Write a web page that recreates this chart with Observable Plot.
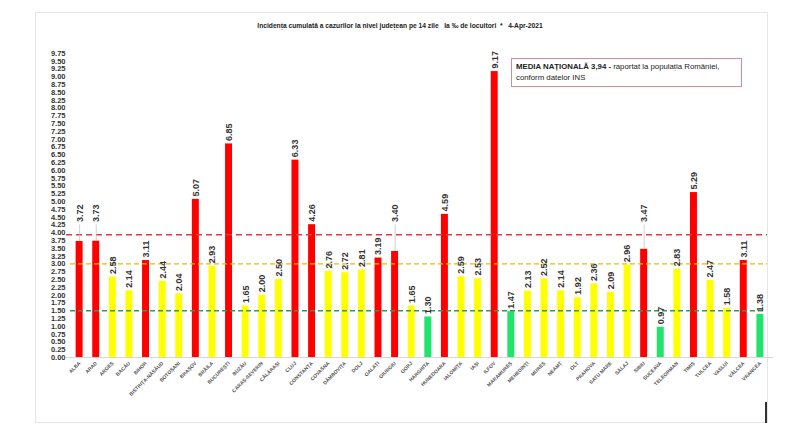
<!DOCTYPE html>
<html>
<head>
<meta charset="utf-8">
<script src="https://cdn.jsdelivr.net/npm/d3@7"></script>
<script src="https://cdn.jsdelivr.net/npm/@observablehq/plot@0.6"></script>
<style>
  body { margin: 0; background: #fff; font-family: "Liberation Sans", Arial, sans-serif; }
  #wrap { position: relative; width: 800px; height: 432px; overflow: hidden; }
  #frame { position: absolute; left: 35px; top: 12px; width: 733px; height: 411px; border: 1px solid #e6e6e6; box-sizing: border-box; }
  #mark { position: absolute; left: 765px; top: 402px; width: 1.5px; height: 21px; background: #333; }
  #chart { position: absolute; left: 0; top: 0; }
  #title { position: absolute; top: 22px; left: 0; width: 800px; text-align: center; font-weight: bold; font-size: 6.7px; color: #222; white-space: pre; }
  #legend { position: absolute; left: 511px; top: 58px; width: 231px; height: 29px; border: 1px solid #d88a98; box-sizing: border-box; padding: 2px 4px; font-size: 7.8px; line-height: 11px; color: #222; }
</style>
</head>
<body>
<div id="wrap">
  <div id="frame"></div>
  <div id="chart"></div>
  <div id="title">Incidența cumulată a cazurilor la nivel județean pe 14 zile   la ‰ de locuitori  *   4-Apr-2021</div>
  <div id="legend"><b>MEDIA NAȚIONALĂ 3,94 -</b> raportat la populația României,<br>conform datelor INS</div>
  <div id="mark"></div>
</div>
<script>
// judete si incidenta la 14 zile (la mia de locuitori)
const judete = ['ALBA', 'ARAD', 'ARGEȘ', 'BACĂU', 'BIHOR', 'BISTRIȚA-NĂSĂUD', 'BOTOȘANI', 'BRAȘOV', 'BRĂILA',
  'BUCUREȘTI', 'BUZĂU', 'CARAȘ-SEVERIN', 'CĂLĂRAȘI', 'CLUJ', 'CONSTANȚA', 'COVASNA', 'DÂMBOVIȚA', 'DOLJ',
  'GALAȚI', 'GIURGIU', 'GORJ', 'HARGHITA', 'HUNEDOARA', 'IALOMIȚA', 'IAȘI', 'ILFOV', 'MARAMUREȘ', 'MEHEDINȚI',
  'MUREȘ', 'NEAMȚ', 'OLT', 'PRAHOVA', 'SATU MARE', 'SĂLAJ', 'SIBIU', 'SUCEAVA', 'TELEORMAN', 'TIMIȘ',
  'TULCEA', 'VASLUI', 'VÂLCEA', 'VRANCEA']
const incidenta = [3.72, 3.73, 2.58, 2.14, 3.11, 2.44, 2.04, 5.07, 2.93,
  6.85, 1.65, 2.00, 2.50, 6.33, 4.26, 2.76, 2.72, 2.81,
  3.19, 3.40, 1.65, 1.30, 4.59, 2.59, 2.53, 9.17, 1.47, 2.13,
  2.52, 2.14, 1.92, 2.36, 2.09, 2.96, 3.47, 0.97, 2.83, 5.29,
  2.47, 1.58, 3.11, 1.38]
const mediaNationala = 3.94
const pragGalben = 3
const pragVerde = 1.5
const yTicks = d3.range(40).map(i => i * 0.25)

const data = judete.map((judet, i) => ({ judet, v: incidenta[i] }))

// culoare dupa prag
const culoare = v => v > pragGalben ? '#ff0000' : v > pragVerde ? '#ffff00' : '#22e36c'
// etichetele care ar cadea peste linia rosie se muta mai sus
const ridicat = v => v > 3.3 && v < 4.2
const baza = v => ridicat(v) ? 4.25 : v

let chart = Plot.plot({
  width: 800,
  height: 432,
  marginTop: 53,
  marginBottom: 75,
  marginLeft: 66,
  marginRight: 27,
  style: { background: 'transparent', fontFamily: 'Liberation Sans, Arial, sans-serif' },
  x: { domain: judete, padding: 0.58, round: false, label: null, axis: null },
  y: { domain: [0, 9.75], label: null, axis: null },
  marks: [
    Plot.axisY({ ticks: yTicks, tickFormat: d3.format('.2f'), tickSize: 0, tickPadding: 1,
      fontSize: 7.5, fontWeight: 'bold', fill: '#333', label: null }),
    Plot.axisX({ tickSize: 0, tickPadding: 5, tickRotate: -45,
      fontSize: 5, fontWeight: 'bold', fill: '#555', label: null }),
    Plot.ruleY([0], { stroke: '#d6d6d6' }),
    Plot.barY(data, { x: 'judet', y: 'v', fill: d => culoare(d.v) }),
    Plot.ruleY([mediaNationala], { stroke: '#d93a43', strokeWidth: 1.5, strokeDasharray: '6,4', insetRight: 6 }),
    Plot.ruleY([pragGalben], { stroke: '#e0c000', strokeWidth: 1.3, strokeDasharray: '5,3', insetLeft: 4, insetRight: 6 }),
    Plot.ruleY([pragVerde], { stroke: '#2e9a5c', strokeWidth: 1.3, strokeDasharray: '5,3', insetLeft: 4, insetRight: 8 }),
    Plot.ruleX(data.filter(d => ridicat(d.v)), { x: 'judet', y1: 'v', y2: d => baza(d.v), stroke: '#bbb', strokeWidth: 0.7 }),
    Plot.text(data, {
      x: 'judet', y: d => baza(d.v), text: d => d.v.toFixed(2),
      rotate: -90, textAnchor: 'start', dy: -3,
      fontSize: 9, fontWeight: 'bold', fill: '#333'
    })
  ]
})

d3.select('#chart').append(() => chart)
</script>
</body>
</html>
